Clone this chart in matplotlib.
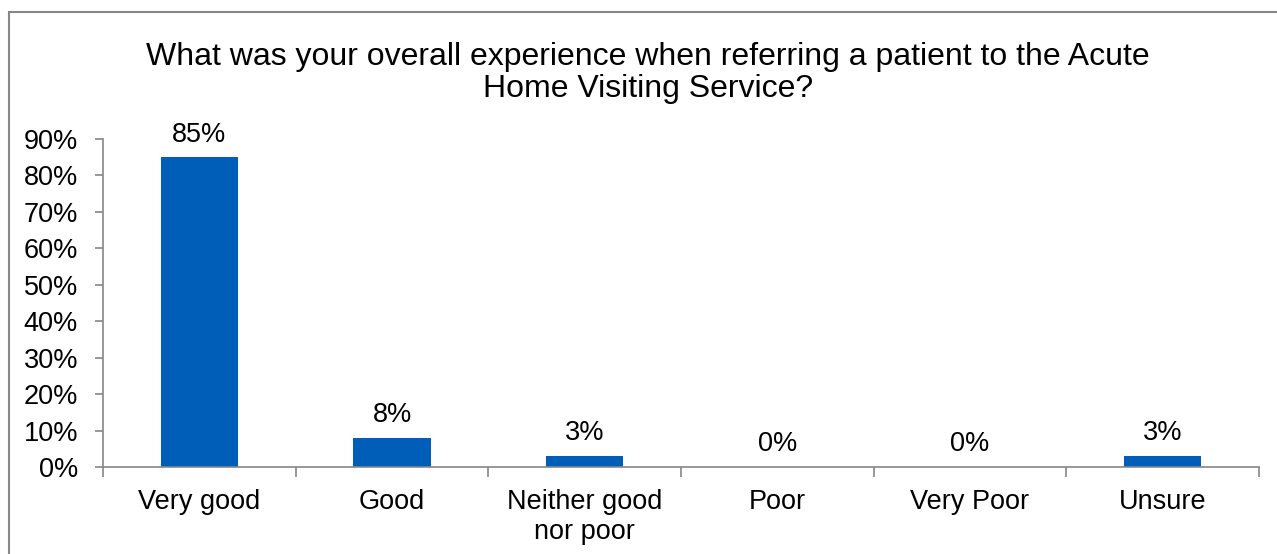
import numpy as np
import matplotlib.pyplot as plt
from matplotlib.patches import Rectangle

plt.rcParams['font.family'] = ['Liberation Sans', 'DejaVu Sans']

categories = ['Very good', 'Good', 'Neither good\nnor poor', 'Poor', 'Very Poor', 'Unsure']
percent = [85, 8, 3, 0, 0, 3]
yticks = [0, 10, 20, 30, 40, 50, 60, 70, 80, 90]

W, H = 1277, 554
fig = plt.figure(figsize=(W / 100, H / 100), dpi=100)

# chart border (top and left edges only are inside the frame)
fig.patches.append(Rectangle((9 / W, -0.1), 1.2, 1 - 12 / H + 0.1, transform=fig.transFigure,
                             fill=False, edgecolor='#878787', linewidth=1.5))

ax = fig.add_axes([103 / W, 1 - 467 / H, (1259 - 103) / W, (467 - 139) / H])
x = np.arange(len(categories))
ax.bar(x, percent, width=0.4, color='#005EB8')

fs = 19.5
for xi, v in zip(x, percent):
    ax.annotate(f'{v}%', (xi, v), xytext=(0, 7), textcoords='offset points',
                ha='center', va='bottom', fontsize=fs)

ax.set_xlim(-0.5, len(categories) - 0.5)
ax.set_ylim(0, 90)
ax.set_yticks(yticks)
ax.set_yticklabels([f'{t}%' for t in yticks], fontsize=fs)
ax.set_xticks(x)
ax.set_xticklabels(categories, fontsize=fs, linespacing=1.2)
ax.tick_params(axis='x', length=0, pad=16)
ax.set_xticks(np.arange(-0.5, len(categories)), minor=True)
ax.tick_params(axis='x', which='minor', length=7, color='#868686', width=1.2)
ax.tick_params(axis='y', length=6, color='#868686', width=1.2, pad=12)

for side in ['top', 'right']:
    ax.spines[side].set_visible(False)
for side in ['left', 'bottom']:
    ax.spines[side].set_color('#868686')
    ax.spines[side].set_linewidth(1.2)

fig.text(648 / W, 1 - 73 / H,
         'What was your overall experience when referring a patient to the Acute\nHome Visiting Service?',
         ha='center', va='center', fontsize=23, linespacing=1.1)

fig.savefig('out.png', dpi=100, facecolor='white')
